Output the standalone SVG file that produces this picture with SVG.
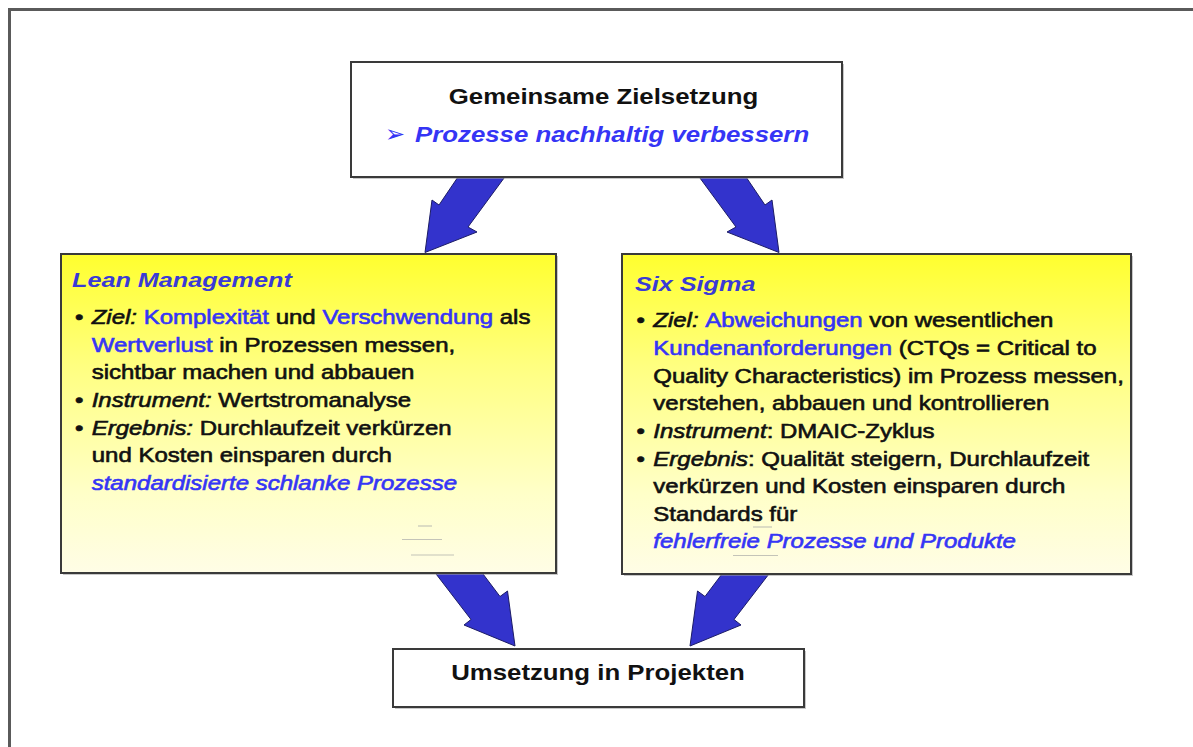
<svg xmlns="http://www.w3.org/2000/svg" width="1193" height="747" viewBox="0 0 1193 747">
<style>
text{font-family:"Liberation Sans",Arial,Helvetica,sans-serif;fill:#111}
.b{font-size:21.5px;font-weight:bold}
.t{font-size:21px;font-weight:bold;font-style:italic;fill:#3a3ad6}
.body{font-size:20px;stroke:#111;stroke-width:0.6}
.bl{fill:#3535f5;stroke:#3535f5}
.i{font-style:italic}
.box{fill:#fff;stroke:#3a3a3a;stroke-width:2}
.ybox{fill:url(#yg);stroke:#3a3a3a;stroke-width:2}
.sh{fill:#9a9a9a;opacity:.55}
.arrow{fill:#3333cc;stroke:#1c1c66;stroke-width:1;stroke-linejoin:miter}
.deco{stroke:#c4c4b8;stroke-width:1.2}
</style>
<defs>
<linearGradient id="yg" x1="0" y1="0" x2="0" y2="1">
<stop offset="0" stop-color="#ffff2e"/>
<stop offset="0.35" stop-color="#ffff80"/>
<stop offset="0.75" stop-color="#ffffc8"/>
<stop offset="1" stop-color="#fffde6"/>
</linearGradient>
</defs>
<rect width="1193" height="747" fill="#fff"/>
<path d="M9.5,747 V9.5 H1193" fill="none" stroke="#5a5a5a" stroke-width="3"/>

<g id="connectors">
<polygon class="arrow" points="460,174 507,174 468,227 477,232 425,252.5 432,200 439,205"/>
<polygon class="arrow" points="744,174 697,174 736,227 727,232 779,252.5 772,200 765,205"/>
<polygon class="arrow" points="433,570 480,570 500,596.5 507.5,591 515,646 464,625 471,619.5"/>
<polygon class="arrow" points="772,570 725,570 705,596.5 697.5,591 690,646 741,625 734,619.5"/>
</g>

<g id="goal">
<rect class="sh" x="353" y="64" width="491" height="115"/>
<rect class="box" x="351" y="62" width="491" height="115"/>
<g transform="translate(603.5,0) scale(1.2,1)"><text class="b" x="0" y="104" text-anchor="middle">Gemeinsame Zielsetzung</text></g>
<text x="385" y="142" style="font-family:'DejaVu Sans',sans-serif;font-size:24px;fill:#3535f5">➢</text>
<g transform="translate(415,0) scale(1.2,1)"><text class="b i bl" x="0" y="142" style="stroke:none">Prozesse nachhaltig verbessern</text></g>
</g>

<g id="lean">
<rect class="sh" x="63" y="256" width="495" height="319"/>
<rect class="ybox" x="61" y="254" width="495" height="319"/>
<g transform="translate(72,0) scale(1.2,1)"><text class="t" x="0" y="287">Lean Management</text></g>
<g transform="translate(91.7,0) scale(1.2,1)">
<text class="body" x="-14" y="324">•</text>
<text class="body" x="0" y="324"><tspan class="i">Ziel:</tspan> <tspan class="bl">Komplexität</tspan> und <tspan class="bl">Verschwendung</tspan> als</text>
<text class="body" x="0" y="351.7"><tspan class="bl">Wertverlust</tspan> in Prozessen messen,</text>
<text class="body" x="0" y="379.4">sichtbar machen und abbauen</text>
<text class="body" x="-14" y="407.1">•</text>
<text class="body" x="0" y="407.1"><tspan class="i">Instrument:</tspan> Wertstromanalyse</text>
<text class="body" x="-14" y="434.8">•</text>
<text class="body" x="0" y="434.8"><tspan class="i">Ergebnis:</tspan> Durchlaufzeit verkürzen</text>
<text class="body" x="0" y="462.5">und Kosten einsparen durch</text>
<text class="body i bl" x="0" y="490.2">standardisierte schlanke Prozesse</text>
</g>
<line class="deco" x1="418" y1="526" x2="432" y2="526"/>
<line class="deco" x1="402" y1="539.5" x2="442" y2="539.5"/>
<line class="deco" x1="411" y1="555" x2="454" y2="555"/>
</g>

<g id="sixsigma">
<rect class="sh" x="624" y="256" width="509" height="320"/>
<rect class="ybox" x="622" y="254" width="509" height="320"/>
<g transform="translate(635,0) scale(1.2,1)"><text class="t" x="0" y="291.5">Six Sigma</text></g>
<g transform="translate(653.3,0) scale(1.2,1)">
<text class="body" x="-14" y="327.3">•</text>
<text class="body" x="0" y="327.3"><tspan class="i">Ziel:</tspan> <tspan class="bl">Abweichungen</tspan> von wesentlichen</text>
<text class="body" x="0" y="355"><tspan class="bl">Kundenanforderungen</tspan> (CTQs = Critical to</text>
<text class="body" x="0" y="382.7">Quality Characteristics) im Prozess messen,</text>
<text class="body" x="0" y="410.3">verstehen, abbauen und kontrollieren</text>
<text class="body" x="-14" y="438.2">•</text>
<text class="body" x="0" y="438.2"><tspan class="i">Instrument</tspan>: DMAIC-Zyklus</text>
<text class="body" x="-14" y="465.8">•</text>
<text class="body" x="0" y="465.8"><tspan class="i">Ergebnis</tspan>: Qualität steigern, Durchlaufzeit</text>
<text class="body" x="0" y="493.4">verkürzen und Kosten einsparen durch</text>
<text class="body" x="0" y="521">Standards für</text>
<text class="body i bl" x="0" y="548.5">fehlerfreie Prozesse und Produkte</text>
</g>
<line class="deco" x1="753" y1="527" x2="772" y2="527"/>
<line class="deco" x1="733" y1="555.5" x2="778" y2="555.5"/>
</g>

<g id="umsetzung">
<rect class="sh" x="395" y="651" width="411" height="58"/>
<rect class="box" x="393" y="649" width="411" height="58"/>
<g transform="translate(598,0) scale(1.2,1)"><text class="b" x="0" y="680" text-anchor="middle">Umsetzung in Projekten</text></g>
</g>
</svg>
